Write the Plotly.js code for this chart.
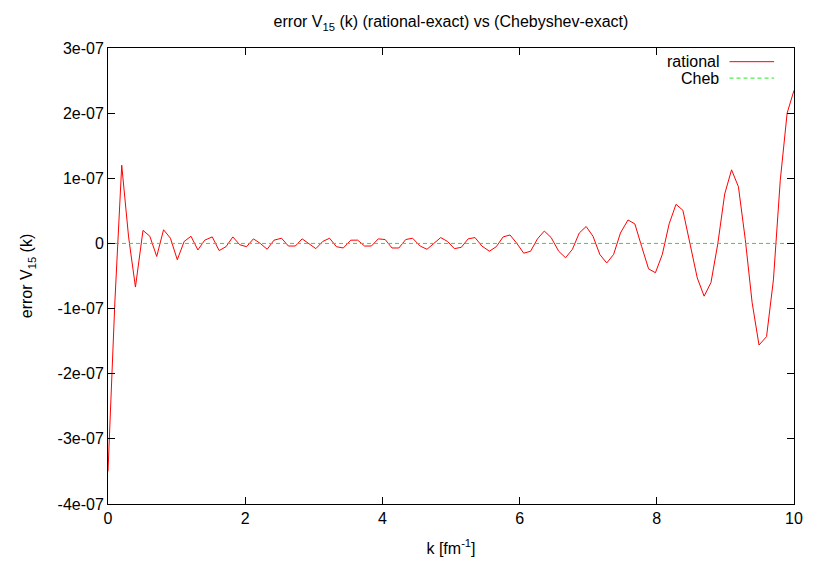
<!DOCTYPE html>
<html>
<head>
<meta charset="utf-8">
<script src="https://cdn.plot.ly/plotly-3.0.1.min.js"></script>
<style>
  html, body { margin: 0; padding: 0; background: #ffffff; }
  #chart { width: 817px; height: 572px; }
</style>
</head>
<body>
<div id="chart"></div>
<script>
// k grid as sampled by the plot (100 samples between 0 and 10)
var k = [0, 0.10, 0.20, 0.30, 0.40, 0.51, 0.61, 0.71, 0.81, 0.91,
         1.01, 1.11, 1.21, 1.31, 1.41, 1.52, 1.62, 1.72, 1.82, 1.92,
         2.02, 2.12, 2.22, 2.32, 2.42, 2.53, 2.63, 2.73, 2.83, 2.93,
         3.03, 3.13, 3.23, 3.33, 3.43, 3.54, 3.64, 3.74, 3.84, 3.94,
         4.04, 4.14, 4.24, 4.34, 4.44, 4.55, 4.65, 4.75, 4.85, 4.95,
         5.05, 5.15, 5.25, 5.35, 5.45, 5.56, 5.66, 5.76, 5.86, 5.96,
         6.06, 6.16, 6.26, 6.36, 6.46, 6.57, 6.67, 6.77, 6.87, 6.97,
         7.07, 7.17, 7.27, 7.37, 7.47, 7.58, 7.68, 7.78, 7.88, 7.98,
         8.08, 8.18, 8.28, 8.38, 8.48, 8.59, 8.69, 8.79, 8.89, 8.99,
         9.09, 9.19, 9.29, 9.39, 9.49, 9.60, 9.70, 9.80, 9.90, 10]

// rational - exact, in units of 1e-07
var rationalErr = [-3.5, -0.9, 1.2, 0.1, -0.67, 0.20, 0.11, -0.20, 0.21, 0.08,
                   -0.25, 0.03, 0.11, -0.10, 0.05, 0.10, -0.11, -0.05, 0.10, -0.02,
                   -0.05, 0.07, 0.0, -0.09, 0.05, 0.08, -0.04, -0.04, 0.07, 0.0,
                   -0.08, 0.03, 0.08, -0.05, -0.07, 0.05, 0.05, -0.04, -0.04, 0.07,
                   0.06, -0.07, -0.07, 0.06, 0.08, -0.04, -0.09, 0.0, 0.09, 0.03,
                   -0.08, -0.06, 0.07, 0.09, -0.04, -0.12, -0.05, 0.10, 0.13, 0.0,
                   -0.15, -0.12, 0.07, 0.19, 0.09, -0.12, -0.22, -0.09, 0.16, 0.26,
                   0.11, -0.17, -0.30, -0.17, 0.16, 0.36, 0.30, -0.05, -0.39, -0.45,
                   -0.17, 0.30, 0.60, 0.51, 0.0, -0.53, -0.81, -0.60, 0.0, 0.76,
                   1.13, 0.87, 0.06, -0.91, -1.56, -1.43, -0.56, 0.97, 2.0, 2.35]

// Chebyshev - exact: flat at zero on this scale
var chebErr = [0, 0, 0, 0, 0, 0, 0, 0, 0, 0,
               0, 0, 0, 0, 0, 0, 0, 0, 0, 0,
               0, 0, 0, 0, 0, 0, 0, 0, 0, 0,
               0, 0, 0, 0, 0, 0, 0, 0, 0, 0,
               0, 0, 0, 0, 0, 0, 0, 0, 0, 0,
               0, 0, 0, 0, 0, 0, 0, 0, 0, 0,
               0, 0, 0, 0, 0, 0, 0, 0, 0, 0,
               0, 0, 0, 0, 0, 0, 0, 0, 0, 0,
               0, 0, 0, 0, 0, 0, 0, 0, 0, 0,
               0, 0, 0, 0, 0, 0, 0, 0, 0, 0]

var xTicks = [0, 2, 4, 6, 8, 10]
var yTicks = [-4e-07, -3e-07, -2e-07, -1e-07, 0, 1e-07, 2e-07, 3e-07]
var yTickText = ['-4e-07', '-3e-07', '-2e-07', '-1e-07', '0', '1e-07', '2e-07', '3e-07']

var seriesNames = ['rational', 'Cheb']

function make_error_figure() {
    var font = { family: '"Liberation Sans", Arial, Helvetica, sans-serif', size: 16, color: '#000000' }

    var traces = [
        {
            x: k,
            y: rationalErr.map(v => v * 1e-07),
            mode: 'lines',
            type: 'scatter',
            name: seriesNames[0],
            line: { color: '#ff0000', width: 1 }
        },
        {
            x: k,
            y: chebErr.map(v => v * 1e-07),
            mode: 'lines',
            type: 'scatter',
            name: seriesNames[1],
            line: { color: '#22e822', width: 1, dash: '4px,3px' }
        }
    ]

    // gnuplot-style key: label on the left, line sample on the right
    var annotations = []
    var shapes = []
    var keyRows = [0.970, 0.934]
    traces.forEach(function (t, i) {
        annotations.push({
            xref: 'paper', yref: 'paper',
            x: 0.893, y: keyRows[i],
            xanchor: 'right', yanchor: 'middle',
            text: t.name, showarrow: false,
            font: font
        })
        shapes.push({
            type: 'line', xref: 'paper', yref: 'paper',
            x0: 0.906, x1: 0.971, y0: keyRows[i], y1: keyRows[i],
            line: t.line
        })
    })

    var axisCommon = {
        showline: true,
        linecolor: '#000000',
        linewidth: 1,
        mirror: 'allticks',
        ticks: 'inside',
        ticklen: 7,
        tickcolor: '#000000',
        tickwidth: 1,
        showgrid: false,
        zeroline: false,
        tickfont: font
    }

    var layout = {
        width: 817,
        height: 572,
        margin: { l: 108, r: 23, t: 48, b: 68 },
        paper_bgcolor: '#ffffff',
        plot_bgcolor: '#ffffff',
        font: font,
        showlegend: false,
        title: {
            text: 'error V<sub>15</sub> (k) (rational-exact) vs (Chebyshev-exact)',
            font: font,
            xref: 'paper', x: 0.5, xanchor: 'center',
            yref: 'container', y: 0.962, yanchor: 'middle'
        },
        xaxis: Object.assign({}, axisCommon, {
            range: [0, 10],
            tickvals: xTicks,
            ticktext: xTicks.map(String),
            title: { text: 'k [fm<sup>-1</sup>]', font: font, standoff: 16 }
        }),
        yaxis: Object.assign({}, axisCommon, {
            range: [-4e-07, 3e-07],
            tickvals: yTicks,
            ticktext: yTickText,
            title: { text: 'error V<sub>15</sub> (k)', font: font, standoff: 20 }
        }),
        annotations: annotations,
        shapes: shapes
    }

    Plotly.newPlot('chart', traces, layout, { displayModeBar: false, staticPlot: true })
}

make_error_figure()
</script>
</body>
</html>
